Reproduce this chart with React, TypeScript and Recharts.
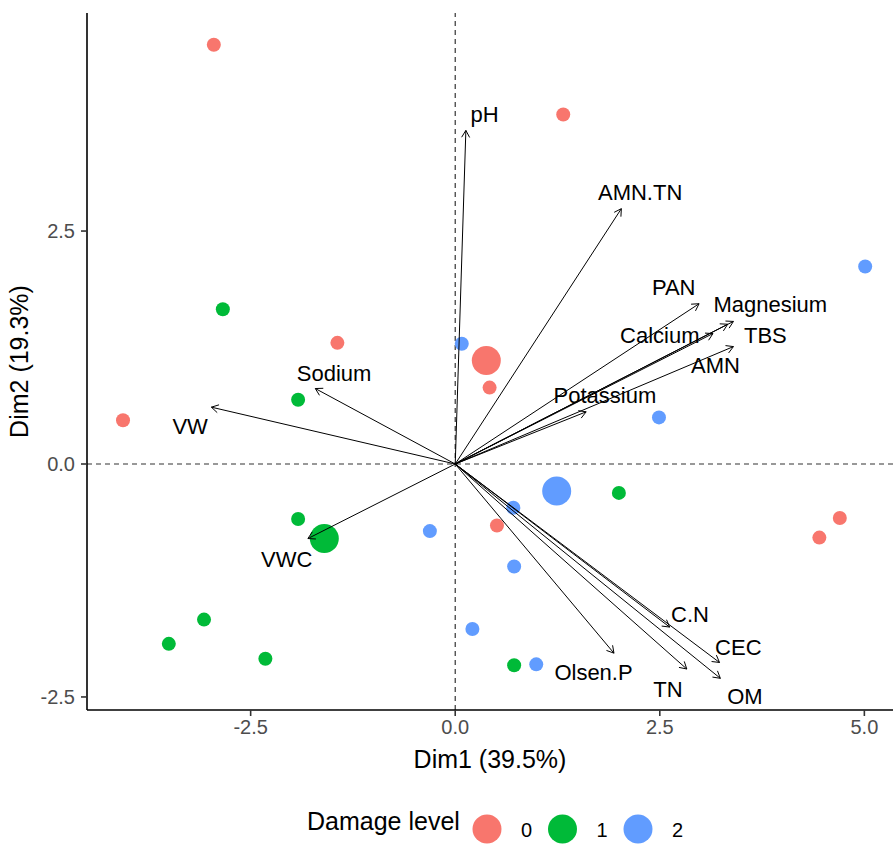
import { ReferenceLine, Scatter, ScatterChart, XAxis, YAxis } from "recharts";

const groupNames = ["0", "1", "2"];
const groupColors = ["#F8766D", "#00BA38", "#619CFF"];

// individuals, by damage level
const damage0 = [
  { x: -2.95, y: 4.5 },
  { x: 1.32, y: 3.75 },
  { x: -1.44, y: 1.3 },
  { x: 0.42, y: 0.82 },
  { x: -4.06, y: 0.47 },
  { x: 0.51, y: -0.66 },
  { x: 4.7, y: -0.58 },
  { x: 4.45, y: -0.79 },
];
const damage1 = [
  { x: -2.84, y: 1.66 },
  { x: -1.92, y: 0.69 },
  { x: -1.92, y: -0.59 },
  { x: -3.5, y: -1.93 },
  { x: -3.07, y: -1.67 },
  { x: -2.32, y: -2.09 },
  { x: 2.0, y: -0.31 },
  { x: 0.72, y: -2.16 },
];
const damage2 = [
  { x: 5.01, y: 2.12 },
  { x: 0.08, y: 1.29 },
  { x: 2.49, y: 0.5 },
  { x: 0.71, y: -0.47 },
  { x: -0.31, y: -0.72 },
  { x: 0.72, y: -1.1 },
  { x: 0.21, y: -1.77 },
  { x: 0.99, y: -2.15 },
];
// group mean points
const centroids = [
  { x: 0.38, y: 1.11, g: 0 },
  { x: -1.6, y: -0.8, g: 1 },
  { x: 1.24, y: -0.29, g: 2 },
];

// variable arrows
const varNames = [
  "pH", "AMN.TN", "PAN", "Magnesium", "TBS", "Calcium", "AMN", "Potassium",
  "Sodium", "VW", "VWC", "C.N", "Olsen.P", "CEC", "TN", "OM",
];
const varDim1 = [0.13, 2.03, 2.98, 3.4, 3.33, 3.15, 3.4, 1.6, -1.71, -2.98, -1.8, 2.62, 1.94, 3.23, 2.83, 3.24];
const varDim2 = [3.58, 2.74, 1.72, 1.53, 1.5, 1.4, 1.26, 0.56, 0.81, 0.61, -0.8, -1.75, -2.03, -2.13, -2.2, -2.3];
// where the repelled labels sit
const labelDim1 = [0.36, 2.26, 2.67, 3.85, 3.79, 2.5, 3.18, 1.83, -1.48, -3.24, -2.06, 2.87, 1.69, 3.46, 2.6, 3.54];
const labelDim2 = [3.75, 2.91, 1.89, 1.71, 1.38, 1.38, 1.06, 0.74, 0.97, 0.4, -1.03, -1.62, -2.24, -1.97, -2.42, -2.5];

const xTicks = [-2.5, 0, 2.5, 5];
const yTicks = [-2.5, 0, 2.5];

// origin first so its pixel position is known before the arrows are drawn
const arrows = [{ x: 0, y: 0, origin: true }, ...varNames.map((name, i) => ({ x: varDim1[i], y: varDim2[i], name }))];
const labels = varNames.map((name, i) => ({ x: labelDim1[i], y: labelDim2[i], name }));

const font = "'Liberation Sans', Arial, sans-serif";

const originPx = { x: 0, y: 0 };

function Arrow(p: any) {
  if (p.payload.origin) {
    originPx.x = p.cx;
    originPx.y = p.cy;
    return <g />;
  }
  const x1 = originPx.x;
  const y1 = originPx.y;
  const x2 = p.cx;
  const y2 = p.cy;
  const ang = Math.atan2(y2 - y1, x2 - x1);
  const len = 8;
  const spread = Math.PI / 6;
  const a = [x2 - len * Math.cos(ang - spread), y2 - len * Math.sin(ang - spread)];
  const b = [x2 - len * Math.cos(ang + spread), y2 - len * Math.sin(ang + spread)];
  return (
    <g>
      <line x1={x1} y1={y1} x2={x2} y2={y2} stroke="#000" strokeWidth={1} />
      <polyline points={`${a[0]},${a[1]} ${x2},${y2} ${b[0]},${b[1]}`} fill="none" stroke="#000" strokeWidth={1} />
    </g>
  );
}

function Dot(r: number, color: string) {
  return (p: any) => <circle cx={p.cx} cy={p.cy} r={r} fill={color} />;
}

export default function App() {
  const tick = { fill: "#4D4D4D", fontSize: 20, fontFamily: font };
  return (
    <div style={{ position: "absolute", left: 0, top: 0, width: 893, height: 846, background: "#fff", fontFamily: font }}>
      <ScatterChart width={893} height={790} margin={{ top: 13, right: 0, left: 0, bottom: 0 }}>
        <XAxis
          type="number"
          dataKey="x"
          domain={[-4.5, 5.35]}
          ticks={xTicks}
          allowDataOverflow
          tickFormatter={(v: number) => v.toFixed(1)}
          tick={tick}
          tickSize={6}
          tickMargin={4}
          height={80}
          axisLine={{ stroke: "#000", strokeWidth: 1.6 }}
          tickLine={{ stroke: "#333", strokeWidth: 1.6 }}
          label={{ value: "Dim1 (39.5%)", position: "insideBottom", offset: 22, fill: "#000", fontSize: 25, fontFamily: font }}
        />
        <YAxis
          type="number"
          dataKey="y"
          domain={[-2.64, 4.84]}
          ticks={yTicks}
          allowDataOverflow
          tickFormatter={(v: number) => v.toFixed(1)}
          tick={tick}
          tickSize={6}
          tickMargin={6}
          width={87}
          axisLine={{ stroke: "#000", strokeWidth: 1.6 }}
          tickLine={{ stroke: "#333", strokeWidth: 1.6 }}
          label={{ value: "Dim2 (19.3%)", angle: -90, position: "insideLeft", offset: 19, fill: "#000", fontSize: 25, fontFamily: font, style: { textAnchor: "middle" } }}
        />
        <ReferenceLine x={0} stroke="#333" strokeDasharray="5 4" strokeWidth={1.2} />
        <ReferenceLine y={0} stroke="#333" strokeDasharray="5 4" strokeWidth={1.2} />
        <Scatter data={damage0} isAnimationActive={false} shape={Dot(7, groupColors[0])} />
        <Scatter data={damage1} isAnimationActive={false} shape={Dot(7, groupColors[1])} />
        <Scatter data={damage2} isAnimationActive={false} shape={Dot(7, groupColors[2])} />
        <Scatter
          data={centroids}
          isAnimationActive={false}
          shape={(p: any) => <circle cx={p.cx} cy={p.cy} r={14.5} fill={groupColors[p.payload.g]} />}
        />
        <Scatter data={arrows} isAnimationActive={false} shape={Arrow} />
        <Scatter
          data={labels}
          isAnimationActive={false}
          shape={(p: any) => (
            <text x={p.cx} y={p.cy} textAnchor="middle" dominantBaseline="central" fontSize={22} fontFamily={font} fill="#000">
              {p.payload.name}
            </text>
          )}
        />
      </ScatterChart>
      <svg width={893} height={56} style={{ position: "absolute", left: 0, top: 790 }}>
        <text x={307} y={40} fontSize={25} fontFamily={font} fill="#000">Damage level</text>
        {groupNames.map((g, i) => (
          <g key={g}>
            <circle cx={487 + i * 75.5} cy={39} r={14.5} fill={groupColors[i]} />
            <text x={521 + i * 75.5} y={47} fontSize={20} fontFamily={font} fill="#000">{g}</text>
          </g>
        ))}
      </svg>
    </div>
  );
}
